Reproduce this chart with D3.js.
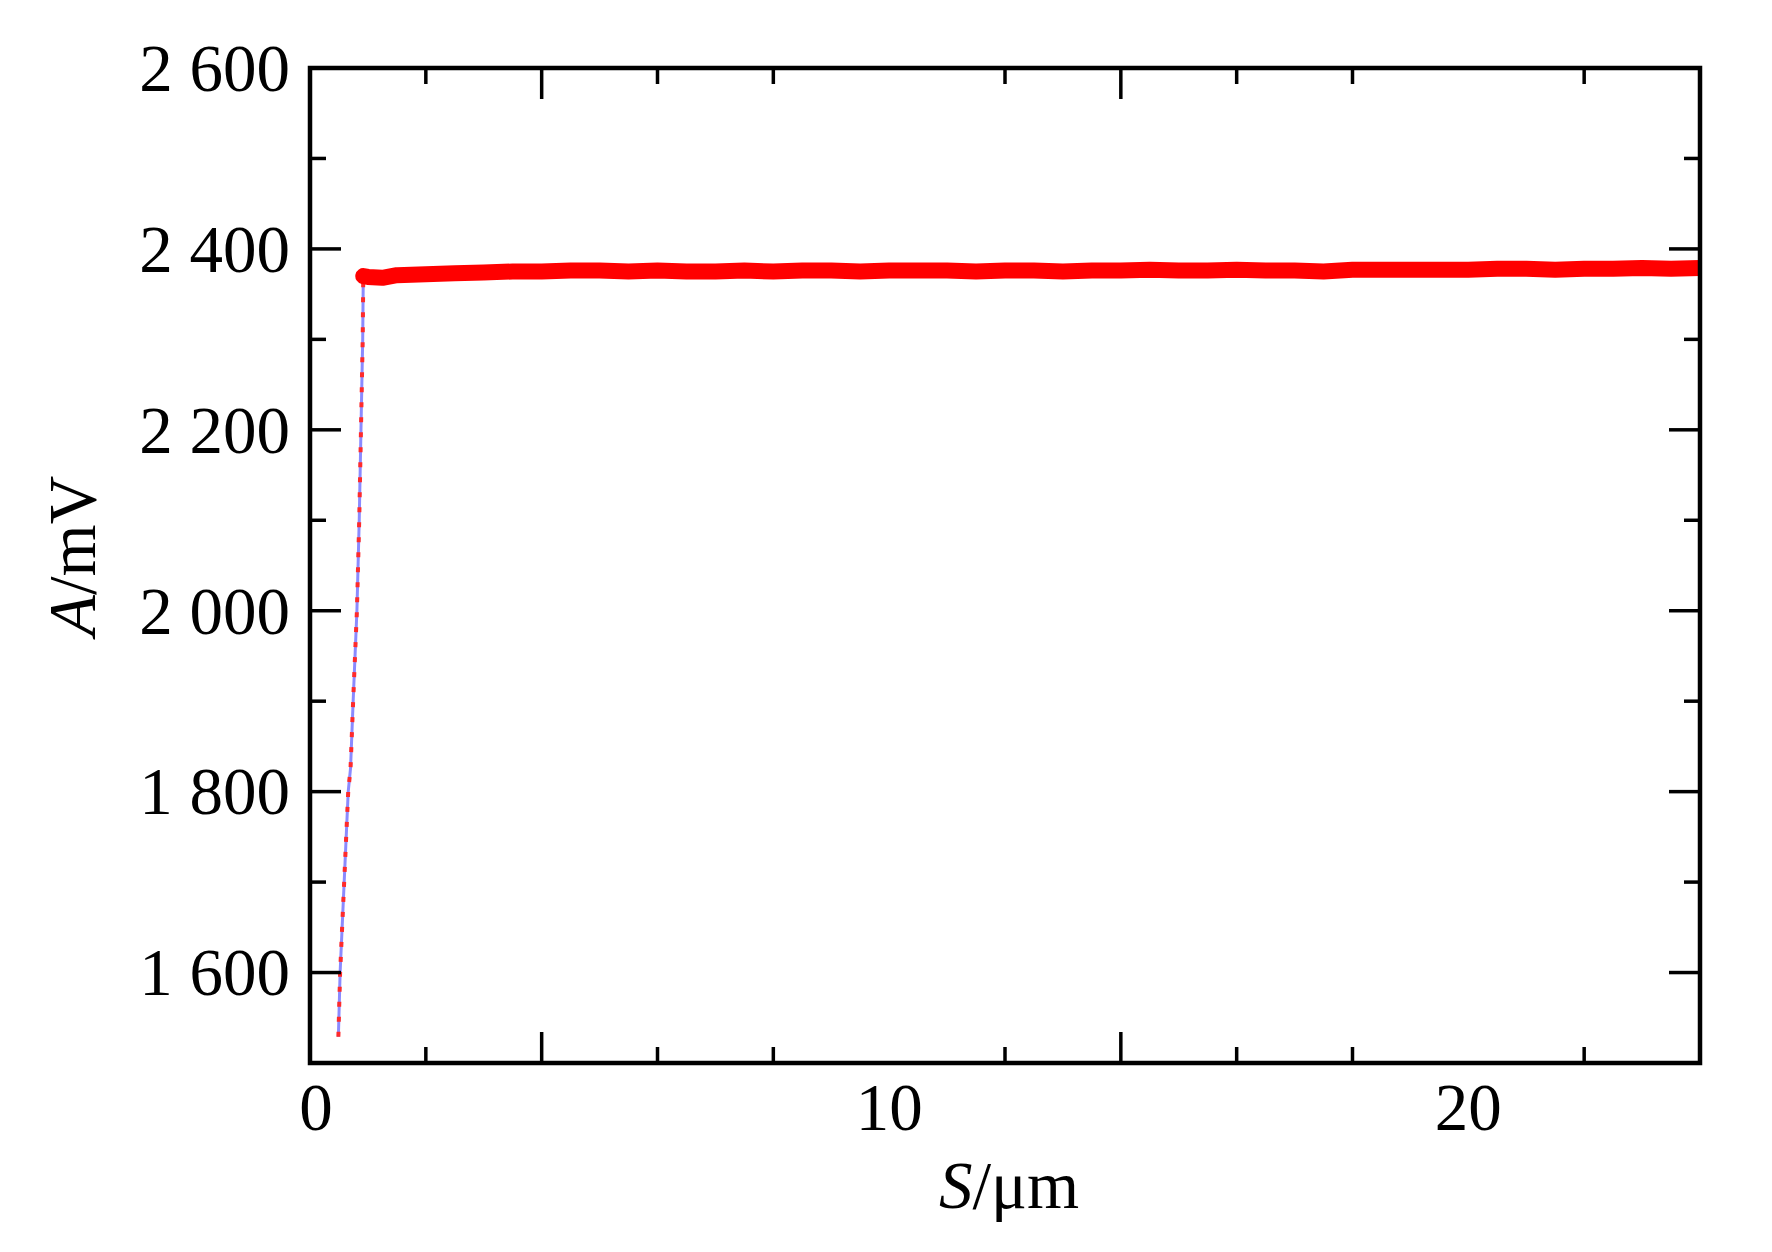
<!DOCTYPE html>
<html><head><meta charset="utf-8">
<script src="https://cdn.jsdelivr.net/npm/d3@7"></script>
<style>
html,body{margin:0;padding:0;background:#fff;}
text{font-family:"Liberation Serif","Times New Roman",serif;fill:#000;}
</style></head>
<body>
<svg id="chart" width="1772" height="1252"></svg>
<script>
// ---- data ----
const riseS = [0.49, 0.52, 0.59, 0.66, 0.70, 0.745, 0.81, 0.85, 0.88, 0.91, 0.92];
const riseA = [1529, 1600, 1700, 1800, 1826, 1900, 2000, 2100, 2200, 2300, 2371];
const plateauS = [0.92,1.0,1.25,1.5,2,2.5,3,3.5,4,4.5,5,5.5,6,6.5,7,7.5,8,8.5,9,9.5,10,10.5,11,11.5,12,12.5,13,13.5,14,14.5,15,15.5,16,16.5,17,17.5,18,18.5,19,19.5,20,20.5,21,21.5,22,22.5,23,23.5,24];
const plateauA = [2370,2369,2368,2371,2372,2373,2374,2375,2375,2376,2376,2375,2376,2375,2375,2376,2375,2376,2376,2375,2376,2376,2376,2375,2376,2376,2375,2376,2376,2377,2376,2376,2377,2376,2376,2375,2377,2377,2377,2377,2377,2378,2378,2377,2378,2378,2379,2378,2379];
const xMajorTicks = [0, 10, 20];
const xTallTicks = [4, 14];
const xMinorTicks = [2, 6, 8, 12, 16, 18, 22];
const yMajorTicks = [1600, 1800, 2000, 2200, 2400, 2600];
const yMinorTicks = [1700, 1900, 2100, 2300, 2500];
const xDomain = [0, 24];
const yDomain = [1500, 2600];
const xTitle = "/μm", xTitleItalic = "S";
const yTitle = "/mV", yTitleItalic = "A";

// ---- layout ----
const L = 310, R = 1700, T = 68, B = 1063;
const svg = d3.select("#chart");
const x = d3.scaleLinear().domain(xDomain).range([L, R]);
const y = d3.scaleLinear().domain(yDomain).range([B, T]);
const yFmt = v => { const s = String(v); return s.length > 3 ? s.slice(0, s.length-3) + " " + s.slice(-3) : s; };

svg.append("defs").append("clipPath").attr("id","clip")
  .append("rect").attr("x",L).attr("y",T).attr("width",R-L).attr("height",B-T);

const plot = svg.append("g").attr("clip-path","url(#clip)");

// rise: blue line with red dotted overlay
const riseData = riseS.map((s,i)=>[s, riseA[i]]);
const line = d3.line().x(d=>x(d[0])).y(d=>y(d[1]));
plot.append("path").datum(riseData).attr("d", line)
  .attr("fill","none").attr("stroke","#8a8aff").attr("stroke-width",3);
plot.append("path").datum(riseData).attr("d", line)
  .attr("fill","none").attr("stroke","#ff2a2a").attr("stroke-width",4)
  .attr("stroke-dasharray","5,10");

// plateau: dense red band
const platData = plateauS.map((s,i)=>[s, plateauA[i]]);
plot.append("path").datum(platData).attr("d", line)
  .attr("fill","none").attr("stroke","#ff0000").attr("stroke-width",16)
  .attr("stroke-linejoin","round").attr("stroke-linecap","round");

// ---- axes frame ----
const ax = svg.append("g");
const tickW = 3.5, majLen = 31, minLen = 16;
function xTick(v, len){
  ax.append("line").attr("x1",x(v)).attr("x2",x(v)).attr("y1",B).attr("y2",B-len)
    .attr("stroke","#000").attr("stroke-width",tickW);
  ax.append("line").attr("x1",x(v)).attr("x2",x(v)).attr("y1",T).attr("y2",T+len)
    .attr("stroke","#000").attr("stroke-width",tickW);
}
function yTick(v, len){
  ax.append("line").attr("x1",L).attr("x2",L+len).attr("y1",y(v)).attr("y2",y(v))
    .attr("stroke","#000").attr("stroke-width",tickW);
  ax.append("line").attr("x1",R).attr("x2",R-len).attr("y1",y(v)).attr("y2",y(v))
    .attr("stroke","#000").attr("stroke-width",tickW);
}
xMinorTicks.forEach(v=>xTick(v,minLen));
xTallTicks.forEach(v=>xTick(v,majLen));
yMinorTicks.forEach(v=>yTick(v,minLen));
yMajorTicks.forEach(v=>yTick(v,majLen));

ax.append("rect").attr("x",L).attr("y",T).attr("width",R-L).attr("height",B-T)
  .attr("fill","none").attr("stroke","#000").attr("stroke-width",4.5);

// tick labels
svg.append("g").selectAll("text").data(xMajorTicks).join("text")
  .attr("x",d=>x(d)+ (d===0?6:0)).attr("y",1130).attr("text-anchor","middle")
  .attr("font-size",67).text(d=>d);
svg.append("g").selectAll("text").data(yMajorTicks).join("text")
  .attr("x",L-20).attr("y",d=>y(d)).attr("dy","0.34em").attr("text-anchor","end")
  .attr("font-size",67).text(yFmt);

// axis titles
const xt = svg.append("text").attr("x",(L+R)/2+4).attr("y",1208).attr("text-anchor","middle").attr("font-size",67);
xt.append("tspan").attr("font-style","italic").text(xTitleItalic);
xt.append("tspan").text(xTitle);
const yt = svg.append("text").attr("transform",`translate(95,556) rotate(-90)`).attr("text-anchor","middle").attr("font-size",67);
yt.append("tspan").attr("font-style","italic").text(yTitleItalic);
yt.append("tspan").text(yTitle);
</script>
</body></html>
